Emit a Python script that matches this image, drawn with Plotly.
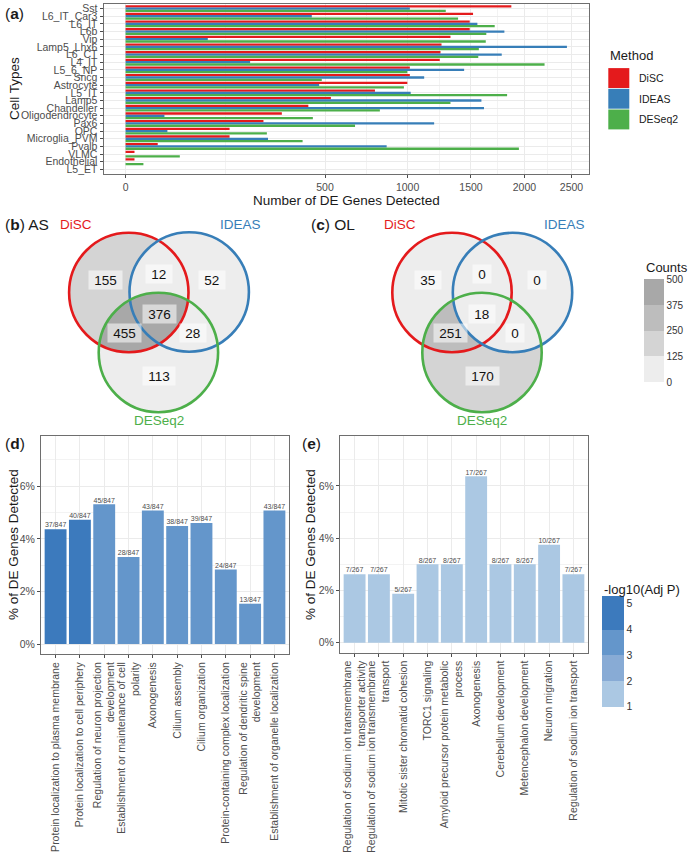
import numpy as np
import plotly.graph_objects as go

W, H = 691, 855
FONT = "Liberation Sans, Arial, sans-serif"


def fx(p):
    return p / W


def fy(p):
    return 1 - p / H


# ---------------- data ----------------
cell_types = ["Sst", "L6_IT_Car3", "L6_IT", "L6b", "Vip", "Lamp5_Lhx6", "L6_CT", "L4_IT",
              "L5_6_NP", "Sncg", "Astrocyte", "L5_IT", "Lamp5", "Chandelier", "Oligodendrocyte",
              "Pax6", "OPC", "Microglia_PVM", "Pvalb", "VLMC", "Endothelial", "L5_ET"]
disc_de = [1871, 1518, 1489, 1489, 1327, 1255, 1247, 1241, 1016, 1016, 998, 782, 530, 420,
           307, 239, 136, 136, 13, 1, 1, 0]
ideas_de = [1016, 436, 1556, 1804, 85, 2449, 1779, 195, 1441, 1121, 471, 1022, 1592, 1615,
            19, 1197, 22, 255, 857, 0, 0, 0]
deseq2_de = [1289, 1390, 1713, 1636, 1631, 1569, 1564, 2207, 998, 484, 974, 1830, 1327, 813,
             441, 662, 251, 394, 1945, 37, 4, 0]
methods = ["DiSC", "IDEAS", "DESeq2"]
method_colors = ["#E41A1C", "#377EB8", "#4DAF4A"]
x_ticks_a = [0, 500, 1000, 1500, 2000, 2500]

venn_regions = ["DiSC", "IDEAS", "DESeq2", "DiSC&IDEAS", "DiSC&DESeq2", "IDEAS&DESeq2", "All"]
venn_patterns = [(1, 0, 0), (0, 1, 0), (0, 0, 1), (1, 1, 0), (1, 0, 1), (0, 1, 1), (1, 1, 1)]
as_counts = [155, 52, 113, 12, 455, 28, 376]
ol_counts = [35, 0, 170, 0, 251, 0, 18]
count_ticks = [0, 125, 250, 375, 500]

d_terms = ["Protein localization to plasma membrane",
           "Protein localization to cell periphery",
           "Regulation of neuron projection<br>development",
           "Establishment or maintenance of cell<br>polarity",
           "Axonogenesis",
           "Cilium assembly",
           "Cilium organization",
           "Protein-containing complex localization",
           "Regulation of dendritic spine<br>development",
           "Establishment of organelle localization"]
d_counts = [37, 40, 45, 28, 43, 38, 39, 24, 13, 43]
d_total = 847
d_neglogp = [5.3, 4.6, 3.6, 3.2, 3.5, 3.3, 3.4, 3.1, 3.0, 3.6]

e_terms = ["Regulation of sodium ion transmembrane<br>transporter activity",
           "Regulation of sodium ion transmembrane<br>transport",
           "Mitotic sister chromatid cohesion",
           "TORC1 signaling",
           "Amyloid precursor protein metabolic<br>process",
           "Axonogenesis",
           "Cerebellum development",
           "Metencephalon development",
           "Neuron migration",
           "Regulation of sodium ion transport"]
e_counts = [7, 7, 5, 8, 8, 17, 8, 8, 10, 7]
e_total = 267
e_neglogp = [1.6, 1.6, 1.05, 1.5, 1.5, 1.9, 1.5, 1.5, 1.4, 1.6]
pct_ticks = [0, 2, 4, 6]

# ---------------- figure ----------------
fig = go.Figure()

# panel (a)
for name, vals, col in zip(methods, [disc_de, ideas_de, deseq2_de], method_colors):
    fig.add_trace(go.Bar(y=cell_types, x=np.sqrt(np.array(vals, dtype=float)), orientation="h",
                         marker=dict(color=col, line=dict(width=0)), name=name,
                         showlegend=False, xaxis="x", yaxis="y"))

M = np.sqrt(max(disc_de + ideas_de + deseq2_de))
sq_ticks = np.sqrt(np.array(x_ticks_a, dtype=float))
minor_a = list((sq_ticks[:-1] + sq_ticks[1:]) / 2)


# venn heatmaps
def venn_z(circles, counts, x0, x1, y0, y1, step=0.5):
    xs = np.arange(x0, x1 + step, step)
    ys = np.arange(y0, y1 + step, step)
    X, Y = np.meshgrid(xs, ys)
    inside = [((X - cx) ** 2 + (Y - cy) ** 2) <= r ** 2 for cx, cy, r in circles]
    z = np.full(X.shape, np.nan)
    for pat, c in zip(venn_patterns, counts):
        m = np.ones(X.shape, dtype=bool)
        for k in range(3):
            m &= inside[k] if pat[k] else ~inside[k]
        z[m] = c
    return xs, ys, z


R = 59.7
as_circles = [(128.8, 292.5, R), (189.2, 292.0, R), (158.4, 352.5, R)]
ol_circles = [(452.0, 292.5, R), (512.5, 292.5, R), (482.0, 352.5, R)]
as_lab = [(105, 280), (212, 280), (159, 376), (159, 274), (124, 333), (193, 333), (159, 314)]
ol_lab = [(428, 280), (537, 280), (482, 376), (482, 274), (450, 333), (515, 333), (482, 314)]

gray_cols = ["#ededed", "#d4d4d4", "#bdbdbd", "#a8a8a8"]
gray_scale = []
for i, c in enumerate(gray_cols):
    gray_scale += [[i / 4, c], [(i + 1) / 4, c]]

xs, ys, z = venn_z(as_circles, as_counts, 60, 260, 225, 420)
fig.add_trace(go.Heatmap(x=xs, y=ys, z=z, coloraxis="coloraxis", xaxis="x2", yaxis="y2",
                         hoverinfo="skip", zsmooth=False))
xs, ys, z = venn_z(ol_circles, ol_counts, 385, 585, 225, 420)
fig.add_trace(go.Heatmap(x=xs, y=ys, z=z, coloraxis="coloraxis", xaxis="x3", yaxis="y3",
                         hoverinfo="skip", zsmooth=False))

# panels (d) & (e)
d_pct = [100 * c / d_total for c in d_counts]
e_pct = [100 * c / e_total for c in e_counts]
fig.add_trace(go.Bar(x=d_terms, y=d_pct, marker=dict(color=d_neglogp, coloraxis="coloraxis2",
                                                     line=dict(width=0)),
                     showlegend=False, xaxis="x4", yaxis="y4"))
fig.add_trace(go.Scatter(x=d_terms, y=d_pct, mode="text", text=[f"{c}/{d_total}" for c in d_counts],
                         textposition="top center", textfont=dict(size=7, color="#4d4d4d"),
                         showlegend=False, xaxis="x4", yaxis="y4", cliponaxis=False))
fig.add_trace(go.Bar(x=e_terms, y=e_pct, marker=dict(color=e_neglogp, coloraxis="coloraxis2",
                                                     line=dict(width=0)),
                     showlegend=False, xaxis="x5", yaxis="y5"))
fig.add_trace(go.Scatter(x=e_terms, y=e_pct, mode="text", text=[f"{c}/{e_total}" for c in e_counts],
                         textposition="top center", textfont=dict(size=7, color="#4d4d4d"),
                         showlegend=False, xaxis="x5", yaxis="y5", cliponaxis=False))

blue_cols = ["#abc8e3", "#88abd5", "#6496cb", "#3c7abd"]
cmin2, cmax2 = 1.0, 5.3
bounds = [cmin2, 2, 3, 4, cmax2]
blue_scale = []
for i, c in enumerate(blue_cols):
    blue_scale += [[(bounds[i] - cmin2) / (cmax2 - cmin2), c],
                   [(bounds[i + 1] - cmin2) / (cmax2 - cmin2), c]]

axis_common = dict(showline=True, mirror=True, linecolor="#6e6e6e", linewidth=1,
                   ticks="outside", ticklen=3, tickcolor="#4d4d4d", zeroline=False,
                   tickfont=dict(size=10.5, color="#4d4d4d"), automargin=False,
                   gridcolor="#ebebeb", gridwidth=1, fixedrange=True)
hidden = dict(visible=False, showgrid=False, zeroline=False, fixedrange=True)

fig.update_layout(
    width=W, height=H, autosize=False,
    margin=dict(l=0, r=0, t=0, b=0, pad=0),
    template="none",
    paper_bgcolor="white", plot_bgcolor="white",
    font=dict(family=FONT, color="#1a1a1a"),
    barmode="group", bargap=0.1, bargroupgap=0,
    showlegend=False,
    xaxis=dict(axis_common, domain=[fx(103.5), fx(589)], range=[-0.05 * M, 1.05 * M],
               tickvals=list(sq_ticks), ticktext=[str(t) for t in x_ticks_a], showgrid=True,
               minor=dict(tickvals=minor_a, showgrid=True, gridcolor="#f3f3f3", gridwidth=0.6,
                          ticks=""),
               anchor="y"),
    yaxis=dict(axis_common, domain=[fy(174), fy(4)], type="category",
               categoryorder="array", categoryarray=cell_types,
               tickmode="array", tickvals=cell_types, ticktext=cell_types,
               range=[len(cell_types) - 1 + 0.6, -0.6], showgrid=True, anchor="x"),
    xaxis2=dict(hidden, domain=[0, fx(340)], range=[0, 340], anchor="y2"),
    yaxis2=dict(hidden, domain=[fy(440), fy(200)], range=[440, 200], anchor="x2"),
    xaxis3=dict(hidden, domain=[fx(340), 1], range=[340, 691], anchor="y3"),
    yaxis3=dict(hidden, domain=[fy(440), fy(200)], range=[440, 200], anchor="x3"),
    xaxis4=dict(axis_common, domain=[fx(41), fx(289)], range=[-0.6, 9.6], tickangle=-90,
                tickmode="array", tickvals=d_terms, ticktext=d_terms,
                showgrid=True, anchor="y4", type="category"),
    yaxis4=dict(axis_common, domain=[fy(654), fy(436)], range=[-0.377, 7.91],
                tickvals=pct_ticks, ticktext=[f"{t}%" for t in pct_ticks], showgrid=True,
                minor=dict(tickvals=[1, 3, 5, 7], showgrid=True, gridcolor="#f3f3f3",
                           gridwidth=0.6, ticks=""),
                anchor="x4"),
    xaxis5=dict(axis_common, domain=[fx(340), fx(588)], range=[-0.6, 9.6], tickangle=-90,
                tickmode="array", tickvals=e_terms, ticktext=e_terms,
                showgrid=True, anchor="y5", type="category"),
    yaxis5=dict(axis_common, domain=[fy(652.5), fy(436)], range=[-0.377, 7.91],
                tickvals=pct_ticks, ticktext=[f"{t}%" for t in pct_ticks], showgrid=True,
                minor=dict(tickvals=[1, 3, 5, 7], showgrid=True, gridcolor="#f3f3f3",
                           gridwidth=0.6, ticks=""),
                anchor="x5"),
    coloraxis=dict(cmin=0, cmax=500, colorscale=gray_scale,
                   colorbar=dict(x=fx(644.3), xanchor="left", xpad=0, y=fy(279.3), yanchor="top",
                                 ypad=0, len=103.4, lenmode="pixels", thickness=20,
                                 thicknessmode="pixels", tickvals=count_ticks, ticks="",
                                 tickfont=dict(size=10, color="#333333"), outlinewidth=0,
                                 title=dict(text=""))),
    coloraxis2=dict(cmin=cmin2, cmax=cmax2, colorscale=blue_scale,
                    colorbar=dict(x=fx(601.7), xanchor="left", xpad=0, y=fy(595.7), yanchor="top",
                                  ypad=0, len=111.3, lenmode="pixels", thickness=21.5,
                                  thicknessmode="pixels", tickvals=[1, 2, 3, 4, 5], ticks="",
                                  tickfont=dict(size=10.5, color="#333333"), outlinewidth=0,
                                  title=dict(text=""))),
)

shapes = []
for circles, xr, yr in [(as_circles, "x2", "y2"), (ol_circles, "x3", "y3")]:
    for (cx, cy, r), col in zip(circles, method_colors):
        shapes.append(dict(type="circle", xref=xr, yref=yr, x0=cx - r, x1=cx + r,
                           y0=cy - r, y1=cy + r, line=dict(color=col, width=2.6),
                           fillcolor="rgba(0,0,0,0)", layer="above"))
# Method legend keys
key_y = [67.7, 88.4, 109.1, 129.8]
for i, col in enumerate(method_colors):
    shapes.append(dict(type="rect", xref="paper", yref="paper", x0=fx(608.3), x1=fx(629.3),
                       y0=fy(key_y[i + 1] - 0.4), y1=fy(key_y[i] + 0.4),
                       fillcolor=col, line=dict(width=0)))
fig.update_layout(shapes=shapes)


def ann(text, x, y, size, color="#1a1a1a", xanchor="center", yanchor="middle", angle=0):
    return dict(text=text, x=fx(x), y=fy(y), xref="paper", yref="paper", showarrow=False,
                font=dict(size=size, color=color, family=FONT), xanchor=xanchor,
                yanchor=yanchor, textangle=angle)


anns = [
    ann("(<b>a</b>)", 3, 13.5, 15.5, xanchor="left"),
    ann("(<b>b</b>) AS", 3, 225, 15.5, xanchor="left"),
    ann("(<b>c</b>) OL", 309, 225, 15.5, xanchor="left"),
    ann("(<b>d</b>)", 3, 444, 15.5, xanchor="left"),
    ann("(<b>e</b>)", 300, 444, 15.5, xanchor="left"),
    ann("Cell Types", 14, 89, 13.5, angle=-90),
    ann("Number of DE Genes Detected", 346, 200, 13.5),
    ann("% of DE Genes Detected", 13, 545, 13.5, angle=-90),
    ann("% of DE Genes Detected", 310, 545, 13.5, angle=-90),
    ann("Method", 608.3, 55, 13, xanchor="left"),
    ann("Counts", 644, 267, 13, xanchor="left"),
    ann("-log10(Adj P)", 601.7, 589, 13, xanchor="left"),
]
for i, m in enumerate(methods):
    anns.append(ann(m, 636.5, (key_y[i] + key_y[i + 1]) / 2, 10.5, xanchor="left"))

# venn set names
name_pos_as = [(76, 224), (241, 224), (159, 420)]
name_pos_ol = [(400, 224), (564, 224), (482, 420)]
for pos, col, m in zip(name_pos_as, method_colors, methods):
    anns.append(ann(m, pos[0], pos[1], 13.5, color=col))
for pos, col, m in zip(name_pos_ol, method_colors, methods):
    anns.append(ann(m, pos[0], pos[1], 13.5, color=col))

# venn region counts
for labs, counts, xr, yr in [(as_lab, as_counts, "x2", "y2"), (ol_lab, ol_counts, "x3", "y3")]:
    for (lx, ly), c in zip(labs, counts):
        anns.append(dict(text=f"&nbsp;{c}&nbsp;", x=lx, y=ly, xref=xr, yref=yr, showarrow=False,
                         font=dict(size=13.5, color="#111111", family=FONT),
                         bgcolor="rgba(255,255,255,0.55)", borderpad=1.5))

fig.update_layout(annotations=anns)

fig.write_html("out.html")
